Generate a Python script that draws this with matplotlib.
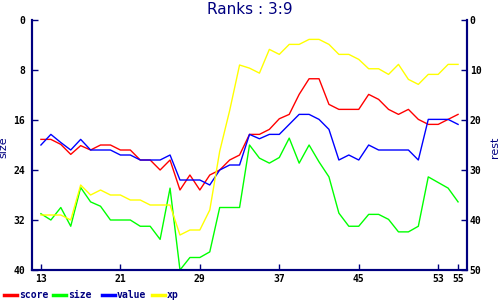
import matplotlib
matplotlib.use("Agg")
import matplotlib.pyplot as plt
from matplotlib.lines import Line2D

# ---- data ----
x = list(range(13, 56))

score = [19.1, 19.1, 19.9, 21.5, 20.1, 20.8, 20.0, 20.0, 20.8, 20.8,
         22.4, 22.4, 24.0, 22.4, 27.2, 24.8, 27.2, 24.8, 24.0, 22.4,
         21.6, 18.3, 18.3, 17.5, 15.8, 15.1, 11.9, 9.4, 9.4, 13.5,
         14.3, 14.3, 14.3, 11.9, 12.7, 14.3, 15.1, 14.3, 15.9, 16.7,
         16.7, 15.9, 15.1]

size = [31.0, 32.0, 30.0, 33.0, 26.8, 29.1, 29.8, 32.0, 32.0, 32.0,
        33.0, 33.0, 35.1, 26.9, 40.0, 38.0, 38.0, 37.1, 30.0, 30.0,
        30.0, 20.0, 22.1, 22.9, 22.0, 18.9, 22.9, 20.0, 22.7, 25.1,
        30.9, 33.0, 33.0, 31.1, 31.1, 31.9, 33.9, 33.9, 33.0, 25.1,
        26.0, 26.9, 29.1]

value = [20.0, 18.3, 19.6, 20.8, 19.1, 20.8, 20.8, 20.8, 21.6, 21.6,
         22.4, 22.4, 22.4, 21.6, 25.6, 25.6, 25.6, 26.4, 24.0, 23.2,
         23.2, 18.3, 19.0, 18.3, 18.3, 16.7, 15.1, 15.1, 15.9, 17.5,
         22.4, 21.6, 22.4, 20.0, 20.8, 20.8, 20.8, 20.8, 22.4, 15.9,
         15.9, 15.9, 16.7]

xp = [31.2, 31.2, 31.2, 32.0, 26.4, 28.0, 27.2, 28.0, 28.0, 28.8,
      28.8, 29.6, 29.6, 29.6, 34.4, 33.6, 33.6, 30.4, 21.0, 14.5,
      7.2, 7.7, 8.5, 4.7, 5.5, 3.9, 3.9, 3.1, 3.1, 3.9,
      5.5, 5.5, 6.3, 7.8, 7.8, 8.7, 7.1, 9.5, 10.3, 8.7,
      8.7, 7.1, 7.1]

names = ["score", "size", "value", "xp"]
colors = ["#ff0000", "#00ff00", "#0000ff", "#ffff00"]
xticks = [13, 21, 29, 37, 45, 53, 55]
left_ticks = [0, 8, 16, 24, 32, 40]
right_ticks = [0, 10, 20, 30, 40, 50]

navy = "#000080"
mono = "DejaVu Sans Mono"

fig = plt.figure(figsize=(5, 3), dpi=100)
ax = fig.add_axes([0.064, 0.1, 0.87, 0.8333])

for data, c in zip([score, size, value, xp], colors):
    ax.plot(x, data, color=c, lw=1)

ax.set_xlim(12.1, 55.9)
ax.set_ylim(40, 0)
ax.set_xticks(xticks)
ax.set_yticks(left_ticks)
ax.set_ylabel("size", color=navy, fontsize=8)
ax.yaxis.set_label_coords(-0.054, 0.49)

ax2 = ax.twinx()
ax2.set_ylim(50, 0)
ax2.set_yticks(right_ticks)
ax2.set_ylabel("rest", color=navy, fontsize=8)
ax2.yaxis.set_label_coords(1.052, 0.49)

for a in (ax, ax2):
    a.spines["top"].set_visible(False)
    for s in ("left", "right", "bottom"):
        a.spines[s].set_color(navy)
        a.spines[s].set_linewidth(1.5)
    a.tick_params(direction="in", length=4, width=1, color=navy,
                  labelsize=7)
    for lab in a.get_xticklabels() + a.get_yticklabels():
        lab.set_fontfamily(mono)
        lab.set_fontweight("bold")
ax.tick_params(axis="y", pad=5)
ax.tick_params(axis="x", pad=3)
ax2.tick_params(axis="y", pad=2)

fig.text(0.5, 0.968, "Ranks : 3:9", ha="center", va="center",
         color=navy, fontsize=11)

# legend along the bottom
leg_x = [4, 53, 102, 152]
for px, name, c in zip(leg_x, names, colors):
    fig.add_artist(Line2D([px / 500, (px + 13) / 500], [0.017, 0.017],
                          color=c, lw=2.5, transform=fig.transFigure))
    fig.text((px + 15) / 500, 0.017, name, ha="left", va="center",
             fontsize=7, family=mono, fontweight="bold", color=navy)

fig.savefig("out.png", dpi=100)
